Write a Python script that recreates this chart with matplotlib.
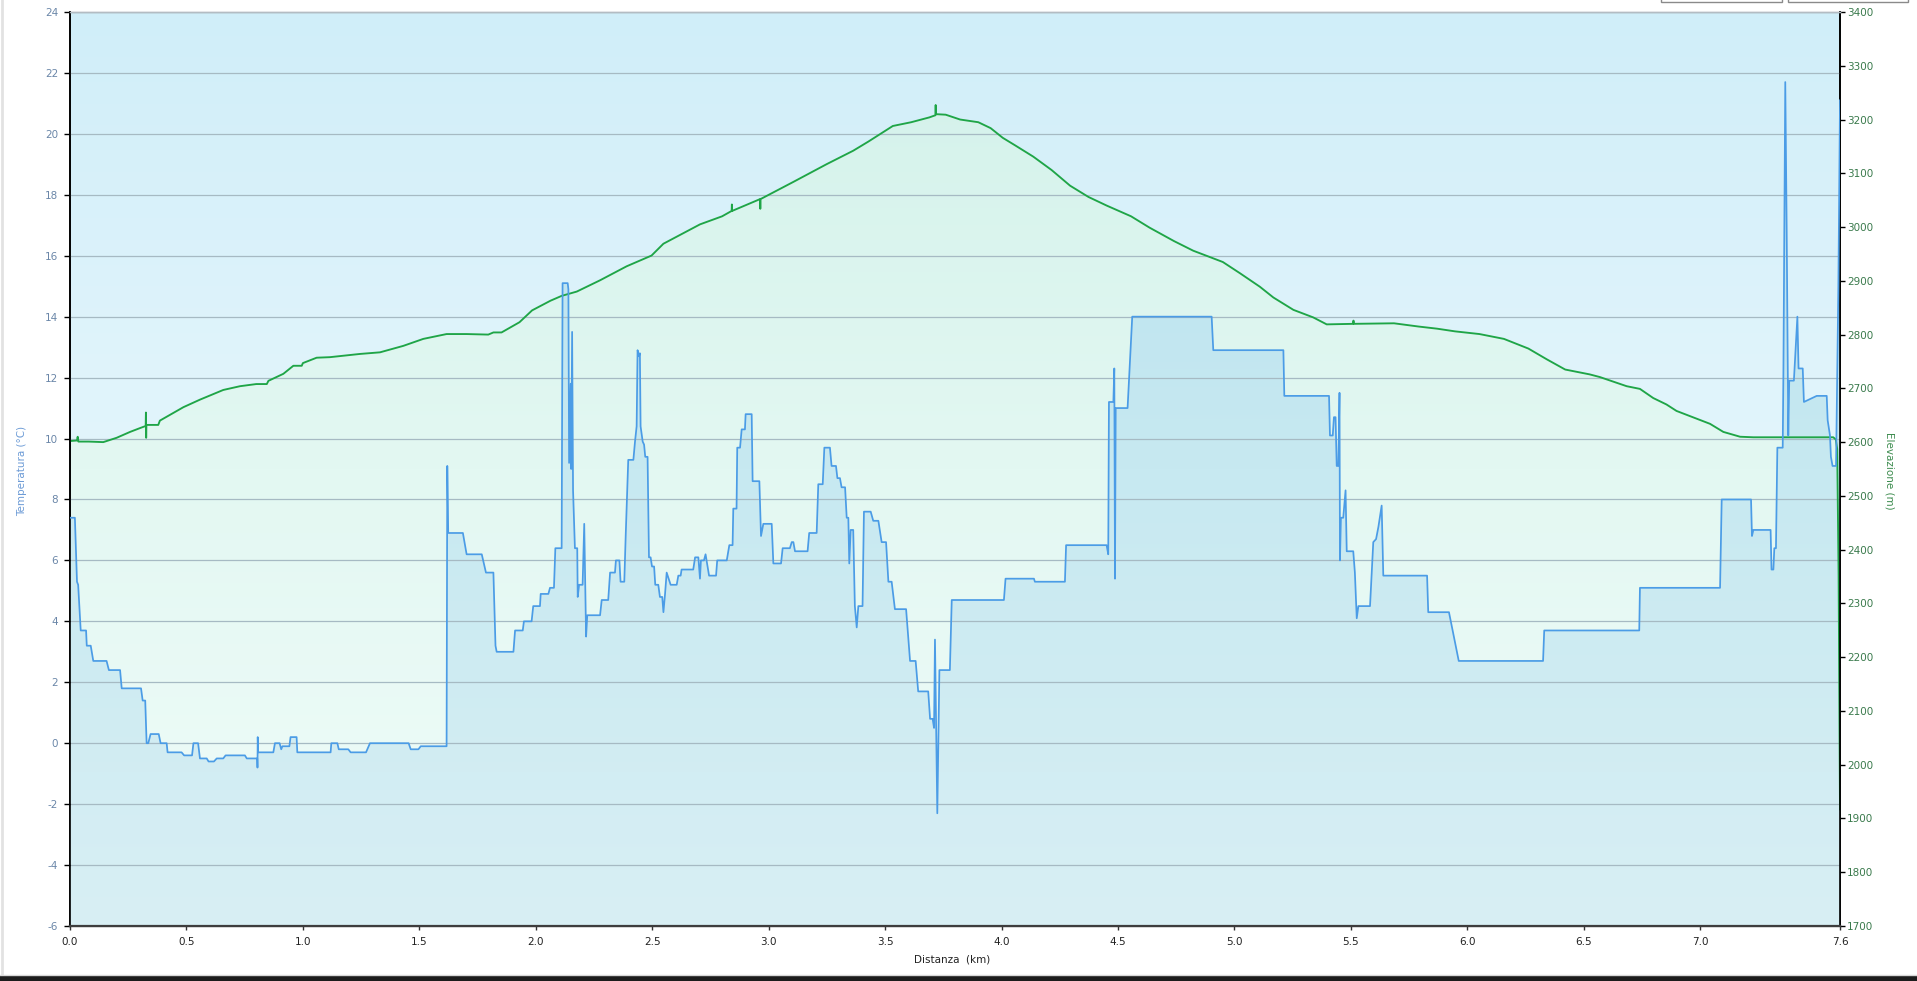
import numpy as np
import matplotlib
matplotlib.use("Agg")
import matplotlib.pyplot as plt
from matplotlib.colors import LinearSegmentedColormap
from matplotlib.patches import Rectangle
from matplotlib.lines import Line2D

plt.rcParams['axes.unicode_minus'] = False

# temperature track (km, degC)
dist_t = [0.000, 0.021, 0.030, 0.035, 0.046, 0.069, 0.072, 0.089, 0.100, 0.157,
          0.167, 0.215, 0.222, 0.305, 0.312, 0.323, 0.329, 0.336, 0.346, 0.381,
          0.389, 0.415, 0.419, 0.479, 0.490, 0.524, 0.530, 0.550, 0.558, 0.587,
          0.595, 0.618, 0.630, 0.658, 0.668, 0.751, 0.759, 0.804, 0.805, 0.806,
          0.808, 0.873, 0.880, 0.900, 0.907, 0.912, 0.942, 0.947, 0.973, 0.976,
          1.119, 1.122, 1.148, 1.154, 1.195, 1.205, 1.271, 1.288, 1.454, 1.463,
          1.496, 1.506, 1.617, 1.620, 1.622, 1.624, 1.687, 1.703, 1.768, 1.786,
          1.818, 1.827, 1.832, 1.904, 1.911, 1.944, 1.949, 1.982, 1.989, 2.018,
          2.021, 2.054, 2.061, 2.078, 2.084, 2.111, 2.115, 2.137, 2.140, 2.143,
          2.150, 2.152, 2.156, 2.160, 2.168, 2.178, 2.180, 2.186, 2.201, 2.208,
          2.216, 2.221, 2.276, 2.283, 2.311, 2.319, 2.340, 2.344, 2.359, 2.364,
          2.380, 2.386, 2.397, 2.419, 2.426, 2.433, 2.437, 2.443, 2.447, 2.450,
          2.459, 2.465, 2.470, 2.480, 2.486, 2.493, 2.499, 2.508, 2.513, 2.526,
          2.533, 2.543, 2.548, 2.555, 2.562, 2.579, 2.605, 2.612, 2.622, 2.626,
          2.676, 2.684, 2.698, 2.705, 2.709, 2.722, 2.729, 2.744, 2.774, 2.779,
          2.820, 2.831, 2.845, 2.848, 2.862, 2.865, 2.877, 2.884, 2.898, 2.901,
          2.927, 2.931, 2.960, 2.967, 2.977, 3.013, 3.020, 3.053, 3.060, 3.091,
          3.099, 3.106, 3.113, 3.167, 3.174, 3.206, 3.213, 3.232, 3.239, 3.263,
          3.270, 3.289, 3.295, 3.306, 3.313, 3.328, 3.335, 3.342, 3.346, 3.352,
          3.363, 3.370, 3.378, 3.385, 3.403, 3.409, 3.438, 3.449, 3.471, 3.485,
          3.504, 3.514, 3.528, 3.542, 3.590, 3.607, 3.631, 3.642, 3.685, 3.693,
          3.704, 3.710, 3.714, 3.724, 3.733, 3.778, 3.786, 4.010, 4.017, 4.139,
          4.143, 4.272, 4.277, 4.451, 4.458, 4.461, 4.480, 4.484, 4.487, 4.490,
          4.541, 4.561, 4.902, 4.909, 5.210, 5.214, 5.406, 5.410, 5.422, 5.427,
          5.434, 5.439, 5.446, 5.451, 5.453, 5.457, 5.467, 5.477, 5.482, 5.510,
          5.517, 5.525, 5.532, 5.582, 5.596, 5.608, 5.618, 5.632, 5.639, 5.827,
          5.832, 5.921, 5.963, 6.325, 6.330, 6.738, 6.741, 7.085, 7.092, 7.218,
          7.222, 7.228, 7.302, 7.306, 7.314, 7.318, 7.325, 7.331, 7.354, 7.357,
          7.365, 7.371, 7.378, 7.382, 7.402, 7.417, 7.422, 7.440, 7.445, 7.500,
          7.543, 7.547, 7.557, 7.561, 7.568, 7.583, 7.593, 7.600]
temp = [7.4, 7.4, 5.3, 5.2, 3.7, 3.7, 3.2, 3.2, 2.7, 2.7,
        2.4, 2.4, 1.8, 1.8, 1.4, 1.4, 0.0, 0.0, 0.3, 0.3,
        0.0, 0.0, -0.3, -0.3, -0.4, -0.4, 0.0, 0.0, -0.5, -0.5,
        -0.6, -0.6, -0.5, -0.5, -0.4, -0.4, -0.5, -0.5, -0.8, 0.2,
        -0.3, -0.3, 0.0, 0.0, -0.2, -0.1, -0.1, 0.2, 0.2, -0.3,
        -0.3, 0.0, 0.0, -0.2, -0.2, -0.3, -0.3, 0.0, 0.0, -0.2,
        -0.2, -0.1, -0.1, 9.1, 8.0, 6.9, 6.9, 6.2, 6.2, 5.6,
        5.6, 3.2, 3.0, 3.0, 3.7, 3.7, 4.0, 4.0, 4.5, 4.5,
        4.9, 4.9, 5.1, 5.1, 6.4, 6.4, 15.1, 15.1, 14.9, 9.2,
        11.8, 9.0, 13.5, 8.3, 6.4, 6.4, 4.8, 5.2, 5.2, 7.2,
        3.5, 4.2, 4.2, 4.7, 4.7, 5.6, 5.6, 6.0, 6.0, 5.3,
        5.3, 6.8, 9.3, 9.3, 9.9, 10.4, 12.9, 12.7, 12.8, 10.4,
        9.9, 9.8, 9.4, 9.4, 6.1, 6.1, 5.8, 5.8, 5.2, 5.2,
        4.8, 4.8, 4.3, 4.9, 5.6, 5.2, 5.2, 5.5, 5.5, 5.7,
        5.7, 6.1, 6.1, 5.4, 6.0, 6.0, 6.2, 5.5, 5.5, 6.0,
        6.0, 6.5, 6.5, 7.7, 7.7, 9.7, 9.7, 10.3, 10.3, 10.8,
        10.8, 8.6, 8.6, 6.8, 7.2, 7.2, 5.9, 5.9, 6.4, 6.4,
        6.6, 6.6, 6.3, 6.3, 6.9, 6.9, 8.5, 8.5, 9.7, 9.7,
        9.1, 9.1, 8.7, 8.7, 8.4, 8.4, 7.4, 7.4, 5.9, 7.0,
        7.0, 4.5, 3.8, 4.5, 4.5, 7.6, 7.6, 7.3, 7.3, 6.6,
        6.6, 5.3, 5.3, 4.4, 4.4, 2.7, 2.7, 1.7, 1.7, 0.8,
        0.8, 0.5, 3.4, -2.3, 2.4, 2.4, 4.7, 4.7, 5.4, 5.4,
        5.3, 5.3, 6.5, 6.5, 6.2, 11.2, 11.2, 12.3, 5.4, 11.0,
        11.0, 14.0, 14.0, 12.9, 12.9, 11.4, 11.4, 10.1, 10.1, 10.7,
        10.7, 9.1, 9.1, 11.5, 6.0, 7.4, 7.4, 8.3, 6.3, 6.3,
        5.6, 4.1, 4.5, 4.5, 6.6, 6.7, 7.1, 7.8, 5.5, 5.5,
        4.3, 4.3, 2.7, 2.7, 3.7, 3.7, 5.1, 5.1, 8.0, 8.0,
        6.8, 7.0, 7.0, 5.7, 5.7, 6.4, 6.4, 9.7, 9.7, 12.2,
        21.7, 16.9, 10.1, 11.9, 11.9, 14.0, 12.3, 12.3, 11.2, 11.4,
        11.4, 10.6, 10.1, 9.4, 9.1, 9.1, 15.0, 21.1]

# elevation track (km, m)
dist_e = [0.000, 0.030, 0.033, 0.036, 0.080, 0.143, 0.200, 0.258, 0.300, 0.325,
          0.326, 0.327, 0.328, 0.379, 0.386, 0.487, 0.558, 0.658, 0.730, 0.800,
          0.845, 0.852, 0.916, 0.959, 0.995, 1.000, 1.059, 1.116, 1.245, 1.331,
          1.431, 1.517, 1.617, 1.703, 1.796, 1.818, 1.853, 1.930, 1.984, 2.063,
          2.111, 2.176, 2.276, 2.390, 2.497, 2.548, 2.705, 2.800, 2.841, 2.842,
          2.843, 2.963, 2.964, 2.965, 3.106, 3.249, 3.363, 3.428, 3.533, 3.612,
          3.690, 3.716, 3.717, 3.718, 3.760, 3.822, 3.900, 3.953, 4.005, 4.058,
          4.136, 4.215, 4.294, 4.373, 4.451, 4.556, 4.635, 4.740, 4.823, 4.950,
          5.024, 5.109, 5.167, 5.253, 5.338, 5.396, 5.510, 5.511, 5.512, 5.685,
          5.790, 5.870, 5.947, 6.052, 6.157, 6.262, 6.341, 6.420, 6.525, 6.569,
          6.684, 6.741, 6.798, 6.855, 6.898, 6.970, 7.042, 7.099, 7.171, 7.228,
          7.571, 7.582, 7.588, 7.594, 7.600]
elev = [2602, 2603, 2610, 2601, 2601, 2600, 2608, 2619, 2626, 2630,
        2655, 2608, 2632, 2632, 2640, 2665, 2679, 2697, 2704, 2708,
        2708, 2714, 2727, 2742, 2742, 2747, 2757, 2758, 2764, 2767,
        2779, 2792, 2801, 2801, 2800, 2804, 2804, 2823, 2845, 2863,
        2872, 2880, 2901, 2927, 2947, 2969, 3005, 3020, 3030, 3042,
        3030, 3052, 3034, 3052, 3084, 3117, 3142, 3159, 3188, 3195,
        3204, 3208, 3227, 3210, 3209, 3200, 3195, 3184, 3166, 3152,
        3131, 3106, 3077, 3056, 3040, 3020, 2999, 2974, 2956, 2935,
        2914, 2889, 2869, 2846, 2832, 2819, 2820, 2826, 2820, 2821,
        2815, 2811, 2806, 2801, 2792, 2774, 2754, 2735, 2726, 2721,
        2704, 2699, 2682, 2670, 2658, 2646, 2634, 2619, 2610, 2609,
        2609, 2605, 2587, 2354, 1917]

x_ticks = [0.0, 0.5, 1.0, 1.5, 2.0, 2.5, 3.0, 3.5, 4.0, 4.5, 5.0, 5.5, 6.0, 6.5, 7.0, 7.6]
x_labels = ['0.0', '0.5', '1.0', '1.5', '2.0', '2.5', '3.0', '3.5', '4.0', '4.5',
            '5.0', '5.5', '6.0', '6.5', '7.0', '7.6']
t_ticks = list(range(-6, 25, 2))
e_ticks = list(range(1700, 3401, 100))

fig = plt.figure(figsize=(19.17, 9.81), dpi=100)
fig.patch.set_facecolor('white')
ax = fig.add_axes([70 / 1917, 55 / 981, 1770 / 1917, 914 / 981])
ax2 = ax.twinx()
ax2.set_zorder(0)
ax.set_zorder(1)
ax.patch.set_visible(False)

XMAX = 7.6
grad = np.linspace(0, 1, 256).reshape(-1, 1)

# background of plot area
bg_cmap = LinearSegmentedColormap.from_list(
    'bg', [(0, '#ecf9fc'), (0.6, '#e0f4fb'), (1, '#d0eef9')])
ax2.imshow(grad, extent=[0, 1, 0, 1], transform=ax2.transAxes, origin='lower',
           aspect='auto', cmap=bg_cmap, zorder=0)

# elevation area
g_poly = ax2.fill_between(dist_e, elev, 1700, facecolor='none', linewidth=0)
g_cmap = LinearSegmentedColormap.from_list('gr', ['#f0fcf9', '#e3f8f2', '#d2f1ea'])
g_img = ax2.imshow(grad, extent=[0, XMAX, 1700, 3400], origin='lower',
                   aspect='auto', cmap=g_cmap, zorder=1)
g_img.set_clip_path(g_poly.get_paths()[0], transform=ax2.transData)

# temperature area
b_poly = ax.fill_between(dist_t, temp, -6, facecolor='none', linewidth=0)
b_cmap = LinearSegmentedColormap.from_list('bl', ['#d8eff4', '#c7e9f1', '#b6e0ef'])
b_img = ax.imshow(grad, extent=[0, XMAX, -6, 24], origin='lower',
                  aspect='auto', cmap=b_cmap, zorder=1)
b_img.set_clip_path(b_poly.get_paths()[0], transform=ax.transData)

ax.set_xlim(0, XMAX)
ax.set_ylim(-6, 24)
ax2.set_xlim(0, XMAX)
ax2.set_ylim(1700, 3400)

# lines
ax.plot(dist_e, elev, color='#1fa547', linewidth=1.35, transform=ax2.transData,
        zorder=2, solid_joinstyle='round')
ax.plot(dist_t, temp, color='#4b9ce6', linewidth=1.25, zorder=3, solid_joinstyle='round')

ax.grid(True, axis='y', color='#a6bac3', linewidth=0.9)
ax.grid(False, axis='x')

# ticks
ax.set_xticks(x_ticks)
ax.set_xticklabels(x_labels)
ax.set_yticks(t_ticks)
ax2.set_yticks(e_ticks)
ax.tick_params(axis='y', direction='out', length=4.5, width=1, color='black',
               labelsize=7.5, labelcolor='#6a86a8', pad=4)
ax.tick_params(axis='x', direction='out', length=3, width=1, color='#333333',
               labelsize=7.5, labelcolor='#222222', pad=5)
ax2.tick_params(axis='y', direction='out', length=3.5, width=1, color='black',
                labelsize=7.5, labelcolor='#3a7a4c', pad=1.5)

for a in (ax, ax2):
    a.spines['top'].set_color('#b3bcc3')
    a.spines['top'].set_linewidth(1.0)
    a.spines['left'].set_color('black')
    a.spines['left'].set_linewidth(1.2)
    a.spines['right'].set_color('black')
    a.spines['right'].set_linewidth(1.2)
    a.spines['bottom'].set_color('#3d3d3d')
    a.spines['bottom'].set_linewidth(1.6)

# axis titles
fig.text(22 / 1917, 1 - 471 / 981, 'Temperatura (°C)', rotation=90, ha='center',
         va='center', fontsize=7.5, color='#6c9bd6')
fig.text(1889 / 1917, 1 - 471 / 981, 'Elevazione (m)', rotation=270, ha='center',
         va='center', fontsize=7.5, color='#3d8c4f')
fig.text(952 / 1917, 1 - 960 / 981, 'Distanza  (km)', ha='center', va='center',
         fontsize=7.5, color='#222222')

# page frame bits
fig.add_artist(Line2D([2 / 1917, 2 / 1917], [7 / 981, 1], color='#e2e2e2', linewidth=2))
fig.add_artist(Line2D([0, 1], [6.5 / 981, 6.5 / 981], color='#d8d8d8', linewidth=1))
fig.add_artist(Rectangle((0, 0), 1, 5 / 981, facecolor='#1c1c1c', edgecolor='none'))
for x0, x1 in [(1661, 1782), (1788, 1908)]:
    fig.add_artist(Rectangle((x0 / 1917, 979 / 981), (x1 - x0) / 1917, 10 / 981,
                             facecolor='white', edgecolor='#8a8a8a', linewidth=1))

fig.savefig('out.png', dpi=100, facecolor='white')
